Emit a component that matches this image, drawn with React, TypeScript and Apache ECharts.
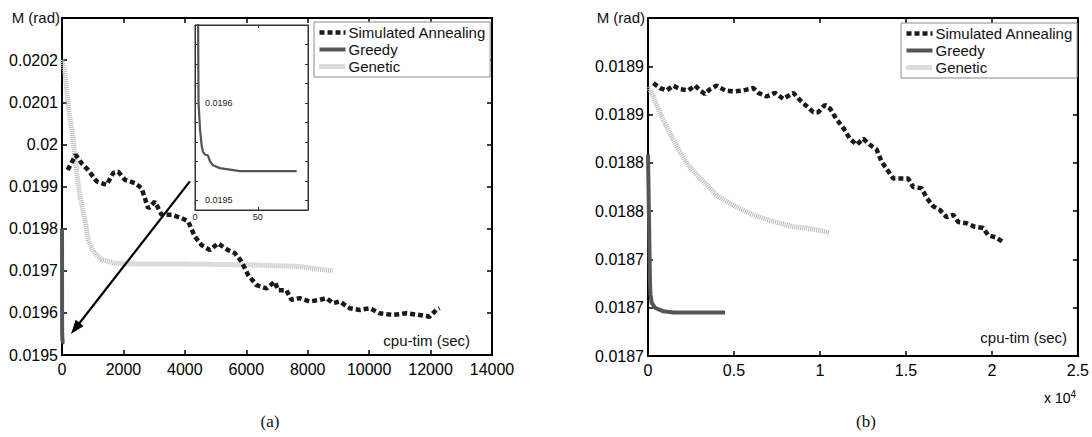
import React, { useEffect, useRef } from "react";
import * as echarts from "echarts";

// ---------- data (a) ----------
const xTicksA = [0, 2000, 4000, 6000, 8000, 10000, 12000, 14000];
const yTicksA = [0.0195, 0.0196, 0.0197, 0.0198, 0.0199, 0.02, 0.0201, 0.0202];
const yMaxA = 0.0203;

const saA: [number, number][] = [
  [185, 0.019939], [446, 0.019975], [641, 0.019955], [855, 0.019939], [1128, 0.019912],
  [1454, 0.019904], [1668, 0.019932], [1831, 0.019935], [2049, 0.019916], [2374, 0.019908],
  [2592, 0.019896], [2806, 0.019848], [3024, 0.019864], [3242, 0.019833], [3567, 0.019833],
  [3893, 0.019825], [4107, 0.019817], [4325, 0.019781], [4543, 0.019761], [4813, 0.019749],
  [5083, 0.019765], [5408, 0.019749], [5626, 0.019742], [5844, 0.019722], [6059, 0.01969],
  [6332, 0.019666], [6657, 0.019658], [6927, 0.019674], [7034, 0.019654], [7307, 0.019654],
  [7470, 0.019631], [7740, 0.019635], [8065, 0.019627], [8390, 0.019631], [8608, 0.019635],
  [8823, 0.019623], [9041, 0.019627], [9366, 0.019611], [9691, 0.019607], [10016, 0.019611],
  [10341, 0.019599], [10774, 0.019595], [11210, 0.019599], [11642, 0.019595], [11967, 0.019591],
  [12185, 0.019607], [12293, 0.019611],
];

const greedyA: [number, number][] = [
  [0, 0.0198], [2.4, 0.0197], [2.8, 0.0196], [4, 0.019573], [5.3, 0.019556],
  [6.3, 0.01955], [7.9, 0.019547], [10.3, 0.019546], [11.9, 0.01954], [14.3, 0.019536],
  [19.8, 0.019533], [35.7, 0.01953], [81, 0.01953],
];

const geneticA: [number, number][] = [
  [0, 0.020201], [98, 0.020169], [205, 0.02009], [367, 0.020011], [478, 0.019932],
  [585, 0.019876], [748, 0.019821], [855, 0.019773], [1018, 0.019745], [1291, 0.019726],
  [1724, 0.019718], [2481, 0.019716], [3837, 0.019716], [6211, 0.019714], [7740, 0.01971],
  [8813, 0.0197],
];

// arrow endpoints (data coords of plot a)
const arrowFrom: [number, number] = [4163, 0.019912];
const arrowTo: [number, number] = [293, 0.01955];

// ---------- data (b) ----------
const xTicksB = [0, 5000, 10000, 15000, 20000, 25000];
const yTicksB = [0.01866, 0.0187, 0.01874, 0.01878, 0.01882, 0.01886, 0.0189, 0.01894];

const saB: [number, number][] = [
  [308, 0.018886], [698, 0.018882], [1087, 0.01888], [1471, 0.018884], [1860, 0.018881],
  [2343, 0.01888], [2733, 0.018884], [3023, 0.01888], [3314, 0.018877], [3605, 0.018881],
  [3994, 0.018884], [4477, 0.01888], [4959, 0.018879], [5541, 0.01888], [6122, 0.018882],
  [6413, 0.018878], [6901, 0.018875], [7384, 0.018878], [7866, 0.018873], [8448, 0.018878],
  [8837, 0.018872], [9227, 0.018867], [9611, 0.018862], [9902, 0.018862], [10291, 0.018868],
  [10582, 0.018865], [10971, 0.018856], [11355, 0.018849], [11744, 0.01884], [12134, 0.018835],
  [12518, 0.01884], [12907, 0.018835], [13297, 0.018831], [13587, 0.018821], [13878, 0.018815],
  [14262, 0.018807], [14651, 0.018807], [15134, 0.018807], [15425, 0.0188], [15913, 0.018799],
  [16203, 0.018791], [16587, 0.018784], [16977, 0.018781], [17366, 0.018775], [17750, 0.018777],
  [18041, 0.018771], [18529, 0.01877], [19012, 0.018767], [19494, 0.018766], [19785, 0.01876],
  [20274, 0.018758], [20698, 0.018754],
];

const greedyB: [number, number][] = [
  [0, 0.018827], [116, 0.01872], [145, 0.018711], [215, 0.018704], [407, 0.0187],
  [890, 0.018697], [1471, 0.018696], [4477, 0.018696],
];

const geneticB: [number, number][] = [
  [17, 0.018883], [308, 0.018875], [698, 0.018861], [1087, 0.01885], [1471, 0.018839],
  [1860, 0.018829], [2343, 0.018818], [2831, 0.01881], [3413, 0.018802], [3994, 0.018793],
  [4576, 0.018788], [5349, 0.018782], [6122, 0.018777], [6901, 0.018773], [7675, 0.01877],
  [8448, 0.018767], [9227, 0.018766], [10000, 0.018764], [10582, 0.018762],
];

// inset axis range
const insetX = [0, 90];
const insetY = [0.01949, 0.01968];

const seriesNames = ["Simulated Annealing", "Greedy", "Genetic"];

const FONT = "Liberation Sans, Arial, sans-serif";

const SA_STYLE = { color: "#1a1a1a", width: 4.5, type: [5, 3] as number[] };
const GR_STYLE = { color: "#555555", width: 4, type: "solid" as const };
const GE_STYLE = { color: "#b8b8b8", width: 5, type: [1, 1] as number[] };

const mkLine = (color: string, width: number) => ({ show: true, onZero: false, lineStyle: { color, width } });
const mkTick = (color: string, length: number, width: number) => ({ show: true, inside: true, length, lineStyle: { color, width } });

function mainAxes(gridIndex: number, xmin: number, xmax: number, xint: number, ymin: number, ymax: number, yint: number, xfmt: (v: number) => string, yfmt: (v: number) => string) {
  const xs = [
    {
      type: "value", gridIndex, position: "bottom", min: xmin, max: xmax, interval: xint,
      axisLine: mkLine("#000", 2), axisTick: mkTick("#000", 5, 1.5), splitLine: { show: false },
      axisLabel: { show: true, margin: 6, fontSize: 16, fontFamily: FONT, color: "#000", formatter: xfmt },
    },
    {
      type: "value", gridIndex, position: "top", min: xmin, max: xmax, interval: xint,
      axisLine: mkLine("#000", 2), axisTick: mkTick("#000", 5, 1.5), splitLine: { show: false }, axisLabel: { show: false },
    },
  ];
  const ys = [
    {
      type: "value", gridIndex, position: "left", min: ymin, max: ymax, interval: yint,
      axisLine: mkLine("#000", 2), axisTick: mkTick("#000", 5, 1.5), splitLine: { show: false },
      axisLabel: { show: true, margin: 4, fontSize: 16, fontFamily: FONT, color: "#000", formatter: yfmt },
    },
    {
      type: "value", gridIndex, position: "right", min: ymin, max: ymax, interval: yint,
      axisLine: mkLine("#000", 2), axisTick: mkTick("#000", 5, 1.5), splitLine: { show: false }, axisLabel: { show: false },
    },
  ];
  return { xs, ys };
}

export default function App() {
  const ref = useRef<HTMLDivElement>(null);

  useEffect(() => {
    if (!ref.current) return;
    const chart = echarts.init(ref.current, undefined, { renderer: "svg" });

    const a = mainAxes(
      0, xTicksA[0], xTicksA[xTicksA.length - 1], xTicksA[1] - xTicksA[0],
      yTicksA[0], yMaxA, yTicksA[1] - yTicksA[0],
      (v) => String(v),
      (v) => (v > yTicksA[yTicksA.length - 1] + 1e-7 ? "" : String(parseFloat(v.toFixed(4))))
    );
    const b = mainAxes(
      1, xTicksB[0], xTicksB[xTicksB.length - 1], xTicksB[1] - xTicksB[0],
      yTicksB[0], yTicksB[yTicksB.length - 1], 0.00004,
      (v) => String(parseFloat((v / 10000).toFixed(2))),
      (v) => (v > yTicksB[yTicksB.length - 2] + 1e-7 ? "" : v.toFixed(4))
    );

    const insetXs = [
      {
        type: "value", gridIndex: 2, position: "bottom", min: insetX[0], max: insetX[1], interval: 50, z: 7,
        axisLine: mkLine("#333", 1), axisTick: mkTick("#333", 3, 1), splitLine: { show: false },
        axisLabel: { show: true, margin: 2, fontSize: 9, fontFamily: FONT, color: "#222", formatter: (v: number) => (v > 80 ? "" : String(v)) },
      },
      {
        type: "value", gridIndex: 2, position: "top", min: insetX[0], max: insetX[1], interval: 50, z: 7,
        axisLine: mkLine("#333", 1), axisTick: mkTick("#333", 3, 1), splitLine: { show: false }, axisLabel: { show: false },
      },
    ];
    const insetYs = [
      {
        type: "value", gridIndex: 2, position: "left", min: insetY[0], max: insetY[1], splitNumber: 10, z: 7,
        axisLine: mkLine("#333", 1), axisTick: mkTick("#333", 3, 1), splitLine: { show: false },
        axisLabel: {
          show: true, inside: true, margin: 10, fontSize: 9, fontFamily: FONT, color: "#222",
          formatter: (v: number) => (Math.abs(v * 10000 - Math.round(v * 10000)) < 1e-6 ? v.toFixed(4) : ""),
        },
      },
      {
        type: "value", gridIndex: 2, position: "right", min: insetY[0], max: insetY[1], splitNumber: 10, z: 7,
        axisLine: mkLine("#333", 1), axisTick: mkTick("#333", 3, 1), splitLine: { show: false }, axisLabel: { show: false },
      },
    ];

    const lineSeries = (name: string, data: [number, number][], xi: number, yi: number, style: any, z = 2) => ({
      type: "line", name, data, xAxisIndex: xi, yAxisIndex: yi, symbol: "none", showSymbol: false,
      lineStyle: { ...style }, itemStyle: { color: style.color }, clip: true, z, silent: true,
    });
    // empty series so that the mirrored (top / right) axes are drawn
    const mirror = (xi: number, yi: number) => ({
      type: "line", name: "_mirror" + xi, data: [], xAxisIndex: xi, yAxisIndex: yi, symbol: "none", silent: true,
    });

    const legendCommon = () => ({
      orient: "vertical", itemWidth: 26, itemHeight: 16, itemGap: 2, padding: [3, 4, 3, 3],
      backgroundColor: "#fff", borderColor: "#8a8a8a", borderWidth: 1, borderRadius: 0,
      itemStyle: { opacity: 0 },
      lineStyle: { width: "inherit" },
      textStyle: { fontSize: 15, fontFamily: FONT, color: "#111", padding: [0, 0, 0, -2] },
      selectedMode: false, data: [...seriesNames],
    });

    const txt = (t: string, x: number, y: number, align: string, size = 15, family = FONT) => ({
      type: "text", x, y, silent: true, z: 50,
      style: { text: t, fill: "#111", font: `${size}px ${family}`, textAlign: align, textVerticalAlign: "middle" },
    });

    chart.setOption({
      animation: false,
      backgroundColor: "#fff",
      grid: [
        { left: 62, top: 18, width: 430, height: 337, containLabel: false, show: true, borderColor: "#000", borderWidth: 2, backgroundColor: "transparent" },
        { left: 648, top: 18, width: 430, height: 338, containLabel: false, show: true, borderColor: "#000", borderWidth: 2, backgroundColor: "transparent" },
        { left: 195, top: 25, width: 113, height: 185, containLabel: false, show: true, backgroundColor: "#fff", borderColor: "#333", borderWidth: 1, z: 5 },
      ],
      xAxis: [...a.xs, ...b.xs, ...insetXs],
      yAxis: [...a.ys, ...b.ys, ...insetYs],
      legend: [
        { ...legendCommon(), left: 314, top: 22 },
        { ...legendCommon(), left: 901, top: 23 },
      ],
      series: [
        lineSeries(seriesNames[2], geneticA, 0, 0, GE_STYLE, 2),
        lineSeries(seriesNames[0], saA, 0, 0, SA_STYLE, 3),
        lineSeries(seriesNames[1], greedyA, 0, 0, GR_STYLE, 4),
        lineSeries(seriesNames[2], geneticB, 2, 2, GE_STYLE, 2),
        lineSeries(seriesNames[0], saB, 2, 2, SA_STYLE, 3),
        lineSeries(seriesNames[1], greedyB, 2, 2, GR_STYLE, 4),
        lineSeries(seriesNames[1], greedyA, 4, 4, { color: "#555555", width: 2.2, type: "solid" }, 8),
        mirror(1, 1), mirror(3, 3), mirror(5, 5),
      ],
    });

    // arrow drawn through the plot's own scale
    const p0 = chart.convertToPixel({ gridIndex: 0 } as any, arrowFrom) as number[];
    const p1 = chart.convertToPixel({ gridIndex: 0 } as any, arrowTo) as number[];
    const dx = p1[0] - p0[0];
    const dy = p1[1] - p0[1];
    const len = Math.sqrt(dx * dx + dy * dy);
    const ux = dx / len, uy = dy / len;
    const headL = 14, headW = 5;
    const bx = p1[0] - ux * headL, by = p1[1] - uy * headL;
    const graphics: any[] = [
      txt("M (rad)", 60, 17, "right"),
      txt("M (rad)", 645, 17, "right"),
      txt("cpu-tim (sec)", 470, 340, "right"),
      txt("cpu-tim (sec)", 1067, 337, "right"),
      txt("(a)", 270, 421, "center", 17, "Liberation Serif, Times New Roman, serif"),
      txt("(b)", 866, 421, "center", 17, "Liberation Serif, Times New Roman, serif"),
      {
        type: "text", x: 1044, y: 398, silent: true,
        style: {
          text: "{a|x 10}{s|4}",
          textVerticalAlign: "middle",
          rich: {
            a: { fontSize: 14, fontFamily: FONT, color: "#111" },
            s: { fontSize: 10, fontFamily: FONT, color: "#111", verticalAlign: "top", padding: [0, 0, 8, 0] },
          },
        },
      },
      {
        type: "line", silent: true, z: 20,
        shape: { x1: p0[0], y1: p0[1], x2: bx + ux * 2, y2: by + uy * 2 },
        style: { stroke: "#000", lineWidth: 2.2 },
      },
      {
        type: "polygon", silent: true, z: 20,
        shape: {
          points: [
            [p1[0], p1[1]],
            [bx - uy * headW, by + ux * headW],
            [bx + uy * headW, by - ux * headW],
          ],
        },
        style: { fill: "#000" },
      },
    ];
    chart.setOption({ graphic: graphics });

    return () => chart.dispose();
  }, []);

  return (
    <div
      ref={ref}
      style={{ position: "fixed", left: 0, top: 0, width: 1092, height: 437, background: "#fff" }}
    />
  );
}
